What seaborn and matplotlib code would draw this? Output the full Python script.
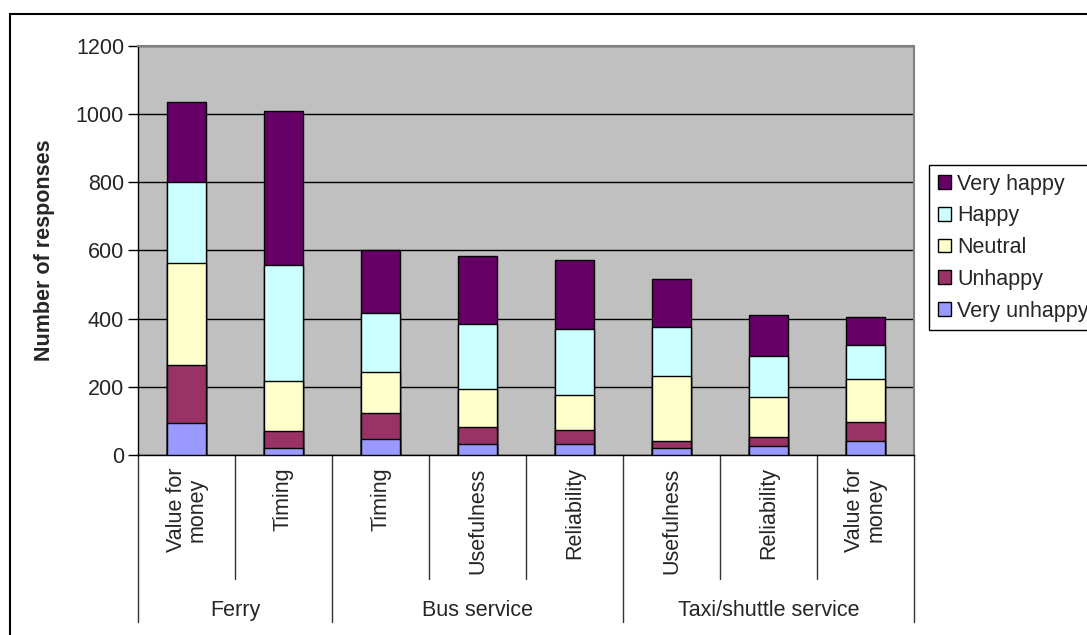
import numpy as np
import pandas as pd
import matplotlib
matplotlib.use("Agg")
import matplotlib.pyplot as plt
import matplotlib.transforms as mtransforms
from matplotlib.patches import Patch, Rectangle
import seaborn as sns

# data
groups = ["Ferry", "Bus service", "Taxi/shuttle service"]
group_sizes = [2, 3, 3]
aspects = ["Value for\nmoney", "Timing", "Timing", "Usefulness", "Reliability",
           "Usefulness", "Reliability", "Value for\nmoney"]
levels = ["Very unhappy", "Unhappy", "Neutral", "Happy", "Very happy"]
very_unhappy = [94, 21, 48, 31, 32, 20, 25, 40]
unhappy = [169, 49, 76, 51, 42, 21, 29, 58]
neutral = [300, 148, 119, 111, 102, 192, 115, 124]
happy = [237, 340, 175, 192, 193, 143, 121, 102]
very_happy = [236, 450, 182, 198, 202, 141, 121, 82]
colors = ["#9999FF", "#993366", "#FFFFCC", "#CCFFFF", "#660066"]

sns.set_style("ticks")
plt.rcParams['font.family'] = ['Liberation Sans', 'DejaVu Sans']
FS = 15.5
plt.rcParams['font.size'] = FS

ids = [f"c{i}" for i in range(len(aspects))]
stack = np.array([very_unhappy, unhappy, neutral, happy, very_happy])
cum = np.cumsum(stack, axis=0)

fig = plt.figure(figsize=(10.87, 6.35), dpi=100)
ax = fig.add_axes([138/1087, 1-455/635, 776/1087, 409/635])

# stacked bars: draw the tallest cumulative level first, then overlay lower ones
for k in range(len(levels) - 1, -1, -1):
    df = pd.DataFrame({"cat": ids, "val": cum[k]})
    sns.barplot(data=df, x="cat", y="val", order=ids, color=colors[k],
                saturation=1, width=0.4, edgecolor="black", linewidth=1,
                errorbar=None, ax=ax, zorder=3)

ax.set_xlim(-0.5, len(ids) - 0.5)
ax.set_ylim(0, 1200)
ax.set_yticks(range(0, 1201, 200))
ax.set_facecolor("#C0C0C0")
ax.yaxis.grid(True, color="black", linewidth=1)
ax.set_axisbelow(True)
ax.set_xlabel("")
ax.set_ylabel("")
ax.set_xticks([])
ax.tick_params(axis="y", direction="out", length=7, width=1, color="black",
               labelsize=FS, pad=3)
for s in ["top", "right"]:
    ax.spines[s].set_color("#808080")
    ax.spines[s].set_linewidth(1.5)
for s in ["left", "bottom"]:
    ax.spines[s].set_color("black")
    ax.spines[s].set_linewidth(1)

trans = mtransforms.blended_transform_factory(ax.transData, ax.transAxes)
for i, lab in enumerate(aspects):
    ax.text(i, -0.03, lab, transform=trans, rotation=90, ha="center", va="top",
            multialignment="center", fontsize=FS, linespacing=1.0)

# separators
bounds = np.cumsum([0] + group_sizes)
for b in range(len(ids) + 1):
    bottom = -0.409 if b in bounds else -0.304
    ax.plot([b - 0.5, b - 0.5], [0, bottom], transform=trans, color="#333333",
            linewidth=1, clip_on=False)
for g, name in enumerate(groups):
    center = (bounds[g] + bounds[g + 1] - 1) / 2
    ax.text(center, -0.38, name, transform=trans, ha="center", va="center",
            fontsize=FS)

fig.text(45/1087, 1-250/635, "Number of responses", rotation=90, ha="center",
         va="center", fontweight="bold", fontsize=FS)

handles = [Patch(facecolor=colors[k], edgecolor="black", linewidth=1)
           for k in range(len(levels) - 1, -1, -1)]
labels = levels[::-1]
leg = fig.legend(handles, labels, loc="upper left",
                 bbox_to_anchor=(929/1087, 1-165/635), frameon=True,
                 fancybox=False, edgecolor="black", framealpha=1,
                 handlelength=0.6, handleheight=0.6, handletextpad=0.3,
                 labelspacing=0.5, borderpad=0.4, fontsize=FS,
                 borderaxespad=0)
leg.get_frame().set_linewidth(1)

fig.patches.append(Rectangle((10/1087, -0.1), 1.2, 1 - 13.5/635 + 0.1,
                             transform=fig.transFigure, fill=False,
                             edgecolor="black", linewidth=1.5))

fig.savefig("out.png", dpi=100)
